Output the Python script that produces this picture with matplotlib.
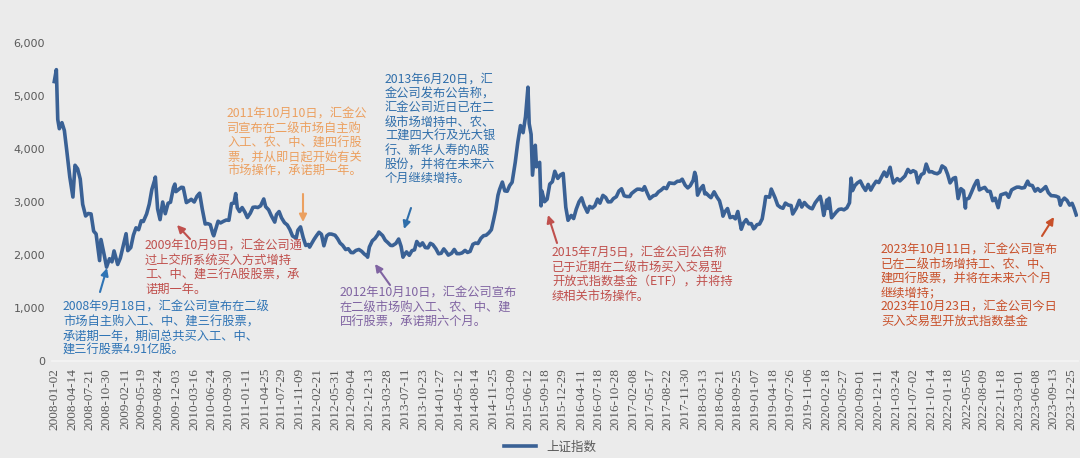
import matplotlib
matplotlib.use('Agg')
import matplotlib.pyplot as plt
import matplotlib.dates as mdates
import numpy as np
import pandas as pd

plt.rcParams['font.family'] = ['Noto Sans CJK SC', 'DejaVu Sans']

# 上证指数, values (about two points per month)
dates = [
    '2008-01-02', '2008-01-14', '2008-01-22', '2008-01-31', '2008-02-15', '2008-02-29', '2008-03-14', '2008-03-31',
    '2008-04-18', '2008-04-30', '2008-05-15', '2008-05-30', '2008-06-13', '2008-06-30', '2008-07-15', '2008-07-31',
    '2008-08-15', '2008-08-29', '2008-09-18', '2008-09-26', '2008-10-15', '2008-10-28', '2008-11-14', '2008-11-28',
    '2008-12-10', '2008-12-31',
    '2009-01-15', '2009-02-17', '2009-02-27', '2009-03-16', '2009-03-31', '2009-04-15', '2009-04-30', '2009-05-15',
    '2009-05-27', '2009-06-15', '2009-06-30', '2009-07-15', '2009-07-31', '2009-08-04', '2009-08-17', '2009-08-31',
    '2009-09-15', '2009-09-30', '2009-10-16', '2009-10-30', '2009-11-16', '2009-11-24', '2009-11-30', '2009-12-15',
    '2009-12-31',
    '2010-01-11', '2010-01-29', '2010-02-12', '2010-02-26', '2010-03-15', '2010-03-31', '2010-04-15', '2010-04-30',
    '2010-05-17', '2010-05-31', '2010-06-15', '2010-06-30', '2010-07-05', '2010-07-30', '2010-08-13', '2010-08-31',
    '2010-09-15', '2010-09-30', '2010-10-15', '2010-10-29', '2010-11-08', '2010-11-17', '2010-11-30', '2010-12-15',
    '2010-12-31',
    '2011-01-14', '2011-01-31', '2011-02-15', '2011-02-28', '2011-03-15', '2011-03-31', '2011-04-18', '2011-04-29',
    '2011-05-16', '2011-05-31', '2011-06-20', '2011-06-30', '2011-07-15', '2011-07-29', '2011-08-15', '2011-08-31',
    '2011-09-15', '2011-09-30', '2011-10-21', '2011-10-31', '2011-11-15', '2011-11-30', '2011-12-15', '2011-12-30',
    '2012-01-06', '2012-01-31', '2012-02-15', '2012-02-29', '2012-03-14', '2012-03-28', '2012-04-13', '2012-04-27',
    '2012-05-11', '2012-05-31', '2012-06-15', '2012-06-29', '2012-07-13', '2012-07-31', '2012-08-15', '2012-08-31',
    '2012-09-12', '2012-09-28', '2012-10-15', '2012-10-31', '2012-11-15', '2012-11-30', '2012-12-04', '2012-12-14',
    '2012-12-31',
    '2013-01-15', '2013-01-31', '2013-02-06', '2013-02-28', '2013-03-15', '2013-03-29', '2013-04-15', '2013-04-26',
    '2013-05-15', '2013-05-31', '2013-06-14', '2013-06-25', '2013-06-28', '2013-07-15', '2013-07-31', '2013-08-15',
    '2013-08-30', '2013-09-12', '2013-09-30', '2013-10-15', '2013-10-31', '2013-11-15', '2013-11-29', '2013-12-13',
    '2013-12-31',
    '2014-01-15', '2014-01-30', '2014-02-14', '2014-02-28', '2014-03-12', '2014-03-31', '2014-04-15', '2014-04-30',
    '2014-05-15', '2014-05-30', '2014-06-16', '2014-06-30', '2014-07-15', '2014-07-31', '2014-08-15', '2014-08-29',
    '2014-09-15', '2014-09-30', '2014-10-15', '2014-10-31', '2014-11-14', '2014-11-28', '2014-12-09', '2014-12-22',
    '2014-12-31',
    '2015-01-16', '2015-01-30', '2015-02-13', '2015-02-27', '2015-03-13', '2015-03-31', '2015-04-15', '2015-04-30',
    '2015-05-15', '2015-05-29', '2015-06-12', '2015-06-19', '2015-06-30', '2015-07-08', '2015-07-24', '2015-07-31',
    '2015-08-18', '2015-08-26', '2015-08-31', '2015-09-15', '2015-09-30', '2015-10-15', '2015-10-30', '2015-11-13',
    '2015-11-30', '2015-12-15', '2015-12-31',
    '2016-01-15', '2016-01-28', '2016-02-15', '2016-02-29', '2016-03-15', '2016-03-31', '2016-04-15', '2016-04-29',
    '2016-05-18', '2016-05-31', '2016-06-15', '2016-06-30', '2016-07-15', '2016-07-29', '2016-08-15', '2016-08-31',
    '2016-09-14', '2016-09-30', '2016-10-14', '2016-10-31', '2016-11-15', '2016-11-30', '2016-12-15', '2016-12-30',
    '2017-01-16', '2017-01-26', '2017-02-15', '2017-02-28', '2017-03-15', '2017-03-31', '2017-04-11', '2017-04-28',
    '2017-05-11', '2017-05-31', '2017-06-15', '2017-06-30', '2017-07-14', '2017-07-31', '2017-08-15', '2017-08-31',
    '2017-09-15', '2017-09-29', '2017-10-16', '2017-10-31', '2017-11-13', '2017-11-30', '2017-12-15', '2017-12-29',
    '2018-01-15', '2018-01-24', '2018-01-31', '2018-02-09', '2018-02-28', '2018-03-13', '2018-03-23', '2018-03-30',
    '2018-04-16', '2018-04-27', '2018-05-15', '2018-05-31', '2018-06-15', '2018-06-29', '2018-07-05', '2018-07-16',
    '2018-07-31', '2018-08-15', '2018-08-31', '2018-09-14', '2018-09-28', '2018-10-18', '2018-10-31', '2018-11-15',
    '2018-11-30', '2018-12-14', '2018-12-28',
    '2019-01-04', '2019-01-15', '2019-01-31', '2019-02-15', '2019-02-28', '2019-03-07', '2019-03-29', '2019-04-08',
    '2019-04-30', '2019-05-15', '2019-05-31', '2019-06-14', '2019-06-28', '2019-07-15', '2019-07-31', '2019-08-09',
    '2019-08-30', '2019-09-16', '2019-09-30', '2019-10-15', '2019-10-31', '2019-11-15', '2019-11-29', '2019-12-16',
    '2019-12-31',
    '2020-01-14', '2020-01-23', '2020-02-03', '2020-02-14', '2020-02-21', '2020-02-28', '2020-03-05', '2020-03-19',
    '2020-03-31', '2020-04-15', '2020-04-30', '2020-05-15', '2020-05-29', '2020-06-15', '2020-06-30', '2020-07-09',
    '2020-07-17', '2020-07-31', '2020-08-14', '2020-08-31', '2020-09-15', '2020-09-30', '2020-10-15', '2020-10-30',
    '2020-11-13', '2020-11-30', '2020-12-15', '2020-12-31',
    '2021-01-15', '2021-01-29', '2021-02-18', '2021-02-26', '2021-03-09', '2021-03-31', '2021-04-15', '2021-04-30',
    '2021-05-14', '2021-05-31', '2021-06-15', '2021-06-30', '2021-07-15', '2021-07-28', '2021-07-30', '2021-08-16',
    '2021-08-31', '2021-09-13', '2021-09-30', '2021-10-15', '2021-10-29', '2021-11-15', '2021-11-30', '2021-12-13',
    '2021-12-31',
    '2022-01-14', '2022-01-28', '2022-02-15', '2022-02-28', '2022-03-15', '2022-03-31', '2022-04-15', '2022-04-26',
    '2022-04-29', '2022-05-16', '2022-05-31', '2022-06-15', '2022-06-30', '2022-07-05', '2022-07-15', '2022-07-29',
    '2022-08-15', '2022-08-31', '2022-09-15', '2022-09-30', '2022-10-14', '2022-10-31', '2022-11-15', '2022-11-30',
    '2022-12-15', '2022-12-30',
    '2023-01-16', '2023-01-31', '2023-02-15', '2023-02-28', '2023-03-15', '2023-03-31', '2023-04-18', '2023-04-28',
    '2023-05-15', '2023-05-31', '2023-06-15', '2023-06-30', '2023-07-14', '2023-07-31', '2023-08-15', '2023-08-31',
    '2023-09-15', '2023-09-28', '2023-10-13', '2023-10-23', '2023-10-31', '2023-11-15', '2023-11-30', '2023-12-15',
    '2023-12-29', '2024-01-10', '2024-01-22',
]
values = [
    5272, 5497, 4559, 4383, 4497, 4348, 3962, 3473,
    3094, 3693, 3626, 3433, 2957, 2736, 2783, 2775,
    2450, 2397, 1895, 2293, 1993, 1771, 1930, 1871,
    2077, 1821,
    1941, 2402, 2082, 2140, 2373, 2513, 2477, 2645,
    2632, 2776, 2959, 3237, 3412, 3471, 2870, 2667,
    3000, 2779, 2976, 2996, 3274, 3338, 3195, 3235,
    3277,
    3273, 2989, 3018, 3051, 3000, 3109, 3166, 2870,
    2585, 2592, 2573, 2398, 2363, 2637, 2605, 2638,
    2660, 2655, 2971, 2979, 3159, 2894, 2820, 2895,
    2808,
    2706, 2790, 2899, 2905, 2896, 2928, 3057, 2911,
    2852, 2743, 2621, 2762, 2820, 2701, 2610, 2567,
    2480, 2359, 2317, 2468, 2530, 2333, 2180, 2199,
    2149, 2292, 2366, 2428, 2391, 2174, 2360, 2396,
    2394, 2373, 2306, 2225, 2185, 2103, 2118, 2047,
    2044, 2086, 2104, 2069, 2018, 1980, 1959, 2150,
    2269,
    2311, 2385, 2434, 2366, 2278, 2237, 2181, 2178,
    2218, 2301, 2162, 1959, 1979, 2059, 1994, 2081,
    2098, 2255, 2174, 2229, 2141, 2135, 2220, 2196,
    2116,
    2023, 2033, 2115, 2056, 1998, 2033, 2105, 2026,
    2025, 2039, 2087, 2048, 2068, 2201, 2226, 2217,
    2315, 2364, 2373, 2420, 2478, 2683, 2856, 3128,
    3235,
    3376, 3210, 3203, 3310, 3372, 3748, 4135, 4442,
    4308, 4612, 5166, 4478, 4277, 3507, 4070, 3664,
    3748, 2927, 3206, 3005, 3053, 3338, 3383, 3580,
    3445, 3510, 3539,
    2901, 2655, 2746, 2688, 2864, 3004, 3078, 2938,
    2807, 2917, 2887, 2930, 3054, 2979, 3125, 3085,
    3002, 3005, 3064, 3100, 3207, 3250, 3118, 3104,
    3103, 3159, 3212, 3242, 3241, 3223, 3289, 3155,
    3062, 3117, 3132, 3192, 3222, 3273, 3252, 3361,
    3353, 3349, 3391, 3393, 3430, 3317, 3266, 3307,
    3410, 3559, 3481, 3129, 3259, 3310, 3153, 3169,
    3111, 3082, 3192, 3095, 3022, 2847, 2733, 2814,
    2876, 2705, 2725, 2682, 2821, 2486, 2603, 2668,
    2588, 2593, 2494,
    2514, 2570, 2585, 2682, 2941, 3102, 3091, 3244,
    3078, 2939, 2899, 2882, 2979, 2942, 2933, 2774,
    2886, 3031, 2905, 2991, 2929, 2891, 2872, 2984,
    3050,
    3106, 2977, 2746, 2917, 3039, 2880, 3071, 2702,
    2750, 2811, 2860, 2868, 2852, 2890, 2985, 3450,
    3214, 3310, 3360, 3396, 3295, 3218, 3332, 3225,
    3310, 3392, 3367, 3473,
    3566, 3483, 3655, 3509, 3360, 3441, 3398, 3447,
    3490, 3615, 3556, 3591, 3564, 3361, 3397, 3517,
    3544, 3715, 3568, 3572, 3547, 3533, 3564, 3681,
    3640,
    3521, 3361, 3446, 3462, 3064, 3252, 3211, 2886,
    3047, 3073, 3186, 3305, 3399, 3405, 3228, 3253,
    3276, 3202, 3200, 3024, 3072, 2893, 3134, 3151,
    3168, 3089,
    3228, 3256, 3280, 3280, 3263, 3273, 3393, 3323,
    3310, 3205, 3253, 3202, 3237, 3291, 3176, 3120,
    3117, 3110, 3088, 2939, 3018, 3073, 3030, 2942,
    2975, 2877, 2756,
]

tick_labels = [
    '2008-01-02', '2008-04-14', '2008-07-21', '2008-10-30', '2009-02-11', '2009-05-19', '2009-08-24', '2009-12-03',
    '2010-03-16', '2010-06-24', '2010-09-30', '2011-01-11', '2011-04-25', '2011-07-29', '2011-11-09', '2012-02-21',
    '2012-05-31', '2012-09-04', '2012-12-13', '2013-03-28', '2013-07-11', '2013-10-23', '2014-01-27', '2014-05-12',
    '2014-08-14', '2014-11-25', '2015-03-09', '2015-06-12', '2015-09-18', '2015-12-29', '2016-04-11', '2016-07-18',
    '2016-10-28', '2017-02-08', '2017-05-17', '2017-08-22', '2017-11-30', '2018-03-13', '2018-06-21', '2018-09-25',
    '2019-01-07', '2019-04-18', '2019-07-26', '2019-11-06', '2020-02-18', '2020-05-27', '2020-09-01', '2020-12-11',
    '2021-03-24', '2021-07-02', '2021-10-14', '2022-01-18', '2022-05-05', '2022-08-09', '2022-11-18', '2023-03-01',
    '2023-06-08', '2023-09-13', '2023-12-25',
]

notes = [
    '2008年9月18日，汇金公司宣布在二级\n市场自主购入工、中、建三行股票，\n承诺期一年，期间总共买入工、中、\n建三行股票4.91亿股。',
    '2009年10月9日，汇金公司通\n过上交所系统买入方式增持\n工、中、建三行A股股票，承\n诺期一年。',
    '2011年10月10日，汇金公\n司宣布在二级市场自主购\n入工、农、中、建四行股\n票，并从即日起开始有关\n市场操作，承诺期一年。',
    '2012年10月10日，汇金公司宣布\n在二级市场购入工、农、中、建\n四行股票，承诺期六个月。',
    '2013年6月20日，汇\n金公司发布公告称，\n汇金公司近日已在二\n级市场增持中、农、\n工建四大行及光大银\n行、新华人寿的A股\n股份，并将在未来六\n个月继续增持。',
    '2015年7月5日，汇金公司公告称\n已于近期在二级市场买入交易型\n开放式指数基金（ETF），并将持\n续相关市场操作。',
    '2023年10月11日，汇金公司宣布\n已在二级市场增持工、农、中、\n建四行股票，并将在未来六个月\n继续增持；\n2023年10月23日，汇金公司今日\n买入交易型开放式指数基金',
]
note_colors = ['#2F74B5', '#C0504D', '#EBA060', '#8064A2', '#2F6EAA', '#C0504D', '#C8502A']
# text top-left and arrow tail/head, in reference pixels (from top)
note_pos = [(63, 301), (145, 240), (227, 108), (340, 287), (385, 73), (552, 247), (881, 244)]
arrows = [((100, 292), (107, 268)), ((190, 239), (177, 225)), ((303, 194), (303, 222)),
          ((390, 285), (375, 264)), ((411, 208), (404, 229)), ((557, 243), (548, 215)),
          ((1042, 236), (1054, 217))]

W, H = 1080, 458
bg = '#EBEBEB'
fig = plt.figure(figsize=(W / 100, H / 100), dpi=100, facecolor=bg)
ax = fig.add_axes([52 / W, 1 - 361 / H, (1078 - 52) / W, (361 - 43) / H])
ax.set_facecolor(bg)

x = pd.to_datetime(dates)
ax.plot(x, values, color='#3A6195', lw=2.6, label='上证指数', solid_joinstyle='round')

ax.set_ylim(0, 6000)
ax.set_yticks(np.arange(0, 6001, 1000))
ax.yaxis.set_major_formatter(matplotlib.ticker.FuncFormatter(lambda v, p: f'{int(v):,}'))
ax.tick_params(axis='y', length=0, labelsize=8, labelcolor='#595959', pad=5)
for t in ax.get_yticklabels():
    t.set_family('DejaVu Sans')

ticks = pd.to_datetime(tick_labels)
ax.set_xlim(pd.Timestamp('2007-12-20'), pd.Timestamp('2024-02-01'))
ax.set_xticks(ticks)
ax.set_xticklabels(tick_labels, rotation=90, fontsize=9.5, color='#595959', family='Liberation Serif')
ax.tick_params(axis='x', length=0, pad=5)

for s in ['top', 'right', 'left']:
    ax.spines[s].set_visible(False)
ax.spines['bottom'].set_color('#F4F4F4')
ax.spines['bottom'].set_linewidth(1.2)

for txt, c, (tx, ty), (tail, head) in zip(notes, note_colors, note_pos, arrows):
    fig.text(tx / W, 1 - ty / H, txt, color=c, fontsize=8.8, va='top', ha='left', linespacing=1.12)
    ax.annotate('', xy=(head[0], H - head[1]), xycoords='figure pixels',
                xytext=(tail[0], H - tail[1]), textcoords='figure pixels',
                arrowprops=dict(arrowstyle='-|>', color=c, lw=1.5, mutation_scale=11,
                                shrinkA=0, shrinkB=0))

leg = ax.legend(loc='center', bbox_to_anchor=(550 / W, 1 - 447 / H), bbox_transform=fig.transFigure,
                frameon=False, fontsize=9, handlelength=2.6)
for t in leg.get_texts():
    t.set_color('#595959')

fig.savefig('out.png', dpi=100, facecolor=bg)
